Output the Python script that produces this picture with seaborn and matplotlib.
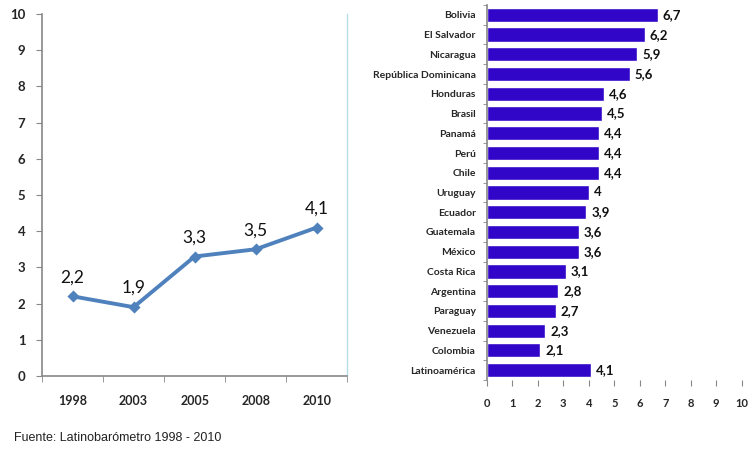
import matplotlib
matplotlib.use('Agg')
import matplotlib.pyplot as plt
import seaborn as sns
import pandas as pd

# serie temporal (promedio Latinoamerica)
anios = ['1998', '2003', '2005', '2008', '2010']
valores_anio = [2.2, 1.9, 3.3, 3.5, 4.1]

# paises 2010
paises = ['Bolivia', 'El Salvador', 'Nicaragua', 'República Dominicana', 'Honduras',
          'Brasil', 'Panamá', 'Perú', 'Chile', 'Uruguay', 'Ecuador', 'Guatemala',
          'México', 'Costa Rica', 'Argentina', 'Paraguay', 'Venezuela', 'Colombia',
          'Latinoamérica']
valores_pais = [6.7, 6.2, 5.9, 5.6, 4.6, 4.5, 4.4, 4.4, 4.4, 4.0, 3.9, 3.6,
                3.6, 3.1, 2.8, 2.7, 2.3, 2.1, 4.1]

fuente = 'Fuente: Latinobarómetro 1998 - 2010'


def fmt(v):
    s = ('%.1f' % v).replace('.', ',')
    return s[:-2] if s.endswith(',0') else s


sns.set_style('white')
plt.rcParams['font.family'] = ['Lato', 'DejaVu Sans']

fig = plt.figure(figsize=(7.5, 4.54), dpi=100)

# --- grafico de linea ---
ax1 = fig.add_axes([0.056, 0.172, 0.407, 0.797])
df1 = pd.DataFrame({'anio': anios, 'valor': valores_anio})
sns.pointplot(data=df1, x='anio', y='valor', color='#4F81BD', markers='D',
              markersize=4, linewidth=2.8, ax=ax1)
ax1.set_xlim(-0.5, 4.5)
ax1.set_ylim(0, 10)
ax1.set_yticks(range(0, 11))
ax1.set_xlabel('')
ax1.set_ylabel('')
for i, v in enumerate(valores_anio):
    ax1.annotate(fmt(v), (i, v), xytext=(0, 8), textcoords='offset points',
                 ha='center', va='bottom', fontsize=12.5, color='#111111')
ax1.set_xticks([i - 0.5 for i in range(6)], minor=True)
ax1.tick_params(axis='x', which='major', length=0, pad=14, labelsize=9)
ax1.tick_params(axis='x', which='minor', length=4, color='#888888', direction='out', bottom=True)
ax1.tick_params(axis='y', length=4, color='#888888', direction='out', left=True, labelsize=9.5, pad=8)
for lab in ax1.get_xticklabels() + ax1.get_yticklabels():
    lab.set_fontweight('bold')
ax1.spines['top'].set_visible(False)
ax1.spines['left'].set_color('#888888')
ax1.spines['bottom'].set_color('#888888')
ax1.spines['left'].set_linewidth(1.2)
ax1.spines['bottom'].set_linewidth(1.2)
ax1.spines['right'].set_color('#B7DEE8')
ax1.spines['right'].set_linewidth(1.0)

# --- grafico de barras ---
ax2 = fig.add_axes([0.649, 0.163, 0.34, 0.826])
df2 = pd.DataFrame({'pais': paises, 'valor': valores_pais})
sns.barplot(data=df2, x='valor', y='pais', orient='h', color='#3206C8',
            saturation=1, width=0.72, ax=ax2)
ax2.set_xlim(0, 10)
ax2.set_ylim(len(paises) - 0.5, -0.5)
ax2.set_xticks(range(0, 11))
ax2.set_xlabel('')
ax2.set_ylabel('')
for i, v in enumerate(valores_pais):
    ax2.text(v + 0.2, i, fmt(v), ha='left', va='center', fontsize=9.5,
             fontweight='bold', color='#111111')
ax2.set_yticks([i - 0.5 for i in range(len(paises) + 1)], minor=True)
ax2.tick_params(axis='y', which='major', length=0, pad=8, labelsize=7.5)
ax2.tick_params(axis='y', which='minor', length=3, color='#888888', direction='out', left=True)
ax2.tick_params(axis='x', length=4, color='#888888', direction='out', bottom=True, pad=9, labelsize=8)
for lab in ax2.get_xticklabels() + ax2.get_yticklabels():
    lab.set_fontweight('bold')
for s in ['top', 'right', 'bottom']:
    ax2.spines[s].set_visible(False)
ax2.spines['left'].set_color('#888888')
ax2.spines['left'].set_linewidth(1.2)

fig.text(0.019, 0.028, fuente, fontsize=9, family='Liberation Sans', color='#222222')

fig.savefig('out.png', dpi=100)
